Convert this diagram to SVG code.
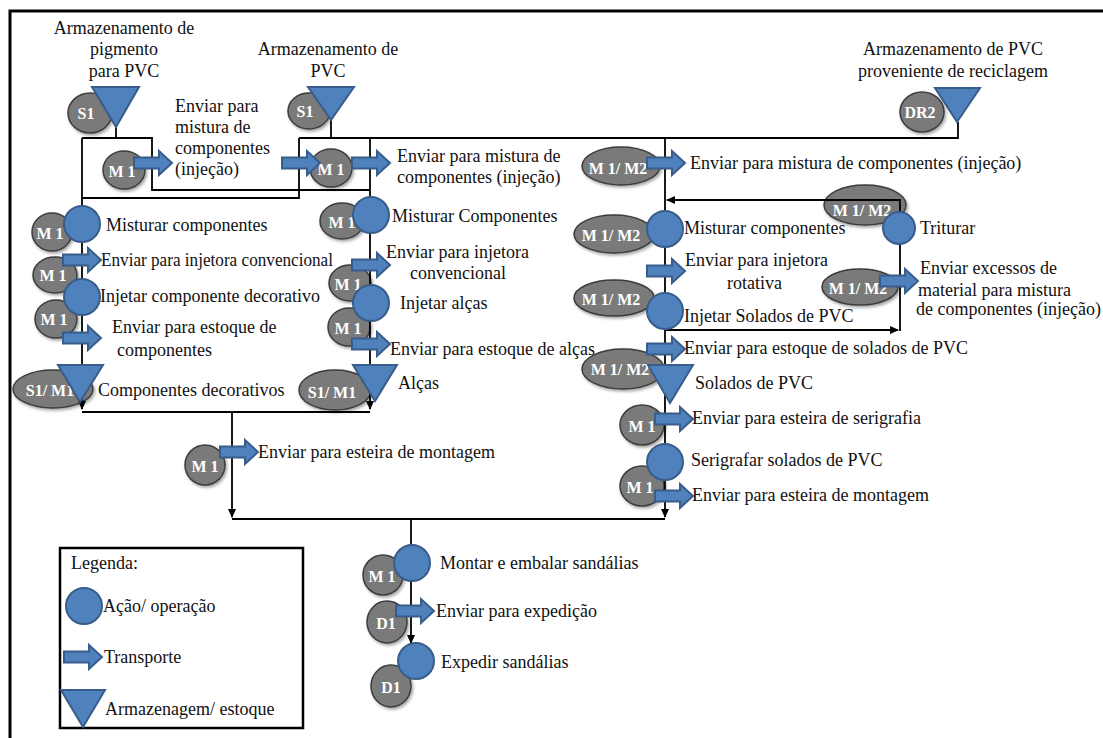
<svg xmlns="http://www.w3.org/2000/svg" width="1103" height="738" viewBox="0 0 1103 738">
  <defs>
    <style>
      text { font-family: "Liberation Serif", "Times New Roman", serif; font-size: 18px; fill: #111; }
      .c { text-anchor: middle; }
      .res ellipse { fill: #7a7a7a; stroke: #3c3c3c; stroke-width: 1.5; filter: url(#sh); }
      .res text { fill: #fff; font-weight: bold; font-size: 16px; text-anchor: middle; }
      .op { fill: #4f81bd; stroke: #385d8a; stroke-width: 2; }
      .ln { fill: none; stroke: #000; stroke-width: 1.8; }
      .frame { fill: none; stroke: #000; stroke-width: 3; }
    </style>
    <filter id="sh" x="-20%" y="-20%" width="150%" height="160%">
      <feDropShadow dx="1.5" dy="2" stdDeviation="1.5" flood-color="#000" flood-opacity="0.35"/>
    </filter>
    <!-- transport block arrow, origin at the tail centre -->
    <path id="tr" d="M0,-5.5 H25 V-12 L38,0 L25,12 V5.5 H0 Z"/>
    <marker id="ah" markerWidth="9" markerHeight="8" refX="8" refY="4" orient="auto" markerUnits="userSpaceOnUse">
      <path d="M0,0 L9,4 L0,8 Z" fill="#000"/>
    </marker>
  </defs>

  <rect width="1103" height="738" fill="#fff"/>
  <path class="frame" d="M10,738 V11 H1103"/>

  <!-- resource markers (gray ellipses) -->
  <g id="resources" class="res">
    <g id="r-s1a"><ellipse cx="90" cy="113" rx="22" ry="20"/><text x="86" y="119">S1</text></g>
    <g id="r-s1b"><ellipse cx="309" cy="111" rx="21" ry="18"/><text x="305" y="117">S1</text></g>
    <g id="r-dr2"><ellipse cx="922" cy="112" rx="22" ry="20"/><text x="920" y="118">DR2</text></g>
    <g id="r-m1-box1"><ellipse cx="124" cy="170" rx="21" ry="19"/><text x="122" y="177">M 1</text></g>
    <g id="r-m1-box2"><ellipse cx="331" cy="168" rx="21" ry="19"/><text x="331" y="175">M 1</text></g>
    <g id="r-m1-c1a"><ellipse cx="52" cy="232" rx="20" ry="19"/><text x="50" y="239">M 1</text></g>
    <g id="r-m1-c1b"><ellipse cx="55" cy="275" rx="22" ry="18"/><text x="53" y="281">M 1</text></g>
    <g id="r-m1-c1c"><ellipse cx="56" cy="319" rx="21" ry="19"/><text x="54" y="325">M 1</text></g>
    <g id="r-s1m1-c1"><ellipse cx="53" cy="389" rx="40" ry="19"/><text x="50" y="396">S1/ M1</text></g>
    <g id="r-m1-c2a"><ellipse cx="342" cy="221" rx="22" ry="18"/><text x="342" y="228">M 1</text></g>
    <g id="r-m1-c2b"><ellipse cx="350" cy="283" rx="21" ry="18"/><text x="348" y="290">M 1</text></g>
    <g id="r-m1-c2c"><ellipse cx="349" cy="327" rx="21" ry="19"/><text x="348" y="334">M 1</text></g>
    <g id="r-s1m1-c2"><ellipse cx="335" cy="390" rx="36" ry="20"/><text x="332" y="398">S1/ M1</text></g>
    <g id="r-m1-mid"><ellipse cx="205" cy="465" rx="20" ry="20"/><text x="205" y="472">M 1</text></g>
    <g id="r-m12-a"><ellipse cx="621" cy="166" rx="39" ry="19"/><text x="618" y="174">M 1/ M2</text></g>
    <g id="r-m12-b"><ellipse cx="865" cy="205" rx="41" ry="20"/><text x="862" y="216">M 1/ M2</text></g>
    <g id="r-m12-c"><ellipse cx="614" cy="234" rx="40" ry="19"/><text x="611" y="241">M 1/ M2</text></g>
    <g id="r-m12-d"><ellipse cx="614" cy="298" rx="40" ry="18"/><text x="611" y="305">M 1/ M2</text></g>
    <g id="r-m12-e"><ellipse cx="860" cy="287" rx="38" ry="18"/><text x="858" y="294">M 1/ M2</text></g>
    <g id="r-m12-f"><ellipse cx="623" cy="369" rx="41" ry="20"/><text x="620" y="375">M 1/ M2</text></g>
    <g id="r-m1-g"><ellipse cx="642" cy="425" rx="22" ry="20"/><text x="642" y="432">M 1</text></g>
    <g id="r-m1-h"><ellipse cx="642" cy="486" rx="22" ry="20"/><text x="640" y="493">M 1</text></g>
    <g id="r-m1-b1"><ellipse cx="383" cy="575" rx="20" ry="20"/><text x="382" y="582">M 1</text></g>
    <g id="r-d1-a"><ellipse cx="387" cy="622" rx="20" ry="21"/><text x="386" y="629">D1</text></g>
    <g id="r-d1-b"><ellipse cx="391" cy="686" rx="20" ry="21"/><text x="391" y="693">D1</text></g>
  </g>

  <!-- flow lines -->
  <g id="connectors" class="ln">
    <path d="M116,127 V138"/>
    <path d="M82,138 H152 V190 H370"/>
    <path d="M82,138 V409" marker-end="url(#ah)"/>
    <path d="M82,198 H299 V138"/>
    <path d="M331,120 V138"/>
    <path d="M299,138 H958 V122"/>
    <path d="M370,138 V409" marker-end="url(#ah)"/>
    <path d="M82,412 H370"/>
    <path d="M232,412 V517" marker-end="url(#ah)"/>
    <path d="M665,138 V517" marker-end="url(#ah)"/>
    <path d="M232,519 H665"/>
    <path d="M411,519 V546"/>
    <path d="M411,581 V643" marker-end="url(#ah)"/>
    <path d="M665,330 H898" marker-end="url(#ah)"/>
    <path d="M900,331 V200 H667" marker-end="url(#ah)"/>
  </g>

  <!-- sources -->
  <g id="src-pigment">
    <polygon class="op" points="92,87 139,87 116,127"/>
    <text class="c" x="124" y="34">Armazenamento de</text>
    <text class="c" x="124" y="55">pigmento</text>
    <text class="c" x="124" y="77">para PVC</text>
  </g>
  <g id="src-pvc">
    <polygon class="op" points="308,87 354,87 331,120"/>
    <text class="c" x="328" y="55">Armazenamento de</text>
    <text class="c" x="328" y="77">PVC</text>
  </g>
  <g id="src-recycled">
    <polygon class="op" points="935,88 980,88 957,122"/>
    <text class="c" x="953" y="55">Armazenamento de PVC</text>
    <text class="c" x="953" y="77">proveniente de reciclagem</text>
  </g>

  <!-- feed to mixing -->
  <g id="t-mix-1">
    <use href="#tr" class="op" x="134" y="163"/>
    <text x="175" y="112">Enviar para</text>
    <text x="175" y="133">mistura de</text>
    <text x="175" y="154">componentes</text>
    <text x="175" y="175">(injeção)</text>
  </g>
  <g id="t-mix-2">
    <use href="#tr" class="op" x="282" y="163"/>
    <use href="#tr" class="op" x="352" y="163"/>
    <text x="397" y="162">Enviar para mistura de</text>
    <text x="397" y="183">componentes (injeção)</text>
  </g>

  <!-- column: decorative components -->
  <g id="op-mix-dec">
    <circle class="op" cx="82" cy="224" r="18"/>
    <text x="106" y="231">Misturar componentes</text>
  </g>
  <g id="t-inj-dec">
    <use href="#tr" class="op" x="63" y="260"/>
    <text x="101" y="266" textLength="232" lengthAdjust="spacingAndGlyphs">Enviar para injetora convencional</text>
  </g>
  <g id="op-inj-dec">
    <circle class="op" cx="82" cy="297" r="18"/>
    <text x="100" y="302">Injetar componente decorativo</text>
  </g>
  <g id="t-stock-dec">
    <use href="#tr" class="op" x="63" y="338"/>
    <text x="112" y="333">Enviar para estoque de</text>
    <text x="117" y="356">componentes</text>
  </g>
  <g id="st-dec">
    <polygon class="op" points="58,365 103,365 80,402"/>
    <text x="98" y="396">Componentes decorativos</text>
  </g>

  <!-- column: straps -->
  <g id="op-mix-str">
    <circle class="op" cx="371" cy="215" r="18"/>
    <text x="392" y="222">Misturar Componentes</text>
  </g>
  <g id="t-inj-str">
    <use href="#tr" class="op" x="352" y="265"/>
    <text x="386" y="258">Enviar para injetora</text>
    <text x="410" y="279">convencional</text>
  </g>
  <g id="op-inj-str">
    <circle class="op" cx="371" cy="303" r="18"/>
    <text x="400" y="309">Injetar alças</text>
  </g>
  <g id="t-stock-str">
    <use href="#tr" class="op" x="352" y="344"/>
    <text x="390" y="355">Enviar para estoque de alças</text>
  </g>
  <g id="st-str">
    <polygon class="op" points="353,365 397,365 375,401"/>
    <text x="398" y="389">Alças</text>
  </g>

  <!-- to assembly belt -->
  <g id="t-belt-1">
    <use href="#tr" class="op" x="220" y="452"/>
    <text x="258" y="458">Enviar para esteira de montagem</text>
  </g>

  <!-- column: PVC soles -->
  <g id="t-mix-3">
    <use href="#tr" class="op" x="647" y="163"/>
    <text x="690" y="169">Enviar para mistura de componentes (injeção)</text>
  </g>
  <g id="op-mix-sole">
    <circle class="op" cx="665" cy="229" r="18"/>
    <text x="684" y="234">Misturar componentes</text>
  </g>
  <g id="op-grind">
    <circle class="op" cx="899" cy="228" r="16"/>
    <text x="920" y="234">Triturar</text>
  </g>
  <g id="t-inj-sole">
    <use href="#tr" class="op" x="647" y="271"/>
    <text x="685" y="266">Enviar para injetora</text>
    <text x="727" y="289">rotativa</text>
  </g>
  <g id="t-excess">
    <use href="#tr" class="op" x="880" y="281"/>
    <text x="920" y="274">Enviar excessos de</text>
    <text x="918" y="296">material para mistura</text>
    <text x="916" y="315">de componentes (injeção)</text>
  </g>
  <g id="op-inj-sole">
    <circle class="op" cx="665" cy="311" r="18"/>
    <text x="684" y="322">Injetar Solados de PVC</text>
  </g>
  <g id="t-stock-sole">
    <use href="#tr" class="op" x="647" y="349"/>
    <text x="684" y="354">Enviar para estoque de solados de PVC</text>
  </g>
  <g id="st-sole">
    <polygon class="op" points="648,365 693,365 670,403"/>
    <text x="695" y="389">Solados de PVC</text>
  </g>
  <g id="t-screen">
    <use href="#tr" class="op" x="655" y="419"/>
    <text x="692" y="424">Enviar para esteira de serigrafia</text>
  </g>
  <g id="op-screen">
    <circle class="op" cx="665" cy="462" r="18"/>
    <text x="691" y="466">Serigrafar solados de PVC</text>
  </g>
  <g id="t-belt-2">
    <use href="#tr" class="op" x="655" y="496"/>
    <text x="692" y="501">Enviar para esteira de montagem</text>
  </g>

  <!-- assembly and dispatch -->
  <g id="op-assemble">
    <circle class="op" cx="412" cy="563" r="18"/>
    <text x="440" y="569">Montar e embalar sandálias</text>
  </g>
  <g id="t-dispatch">
    <use href="#tr" class="op" x="396" y="611"/>
    <text x="436" y="617">Enviar para expedição</text>
  </g>
  <g id="op-dispatch">
    <circle class="op" cx="416" cy="661" r="18"/>
    <text x="441" y="668">Expedir sandálias</text>
  </g>

  <!-- legend -->
  <g id="legend">
    <rect x="60" y="548" width="243" height="180" fill="none" stroke="#000" stroke-width="2.5"/>
    <text x="71" y="569">Legenda:</text>
    <circle class="op" cx="84" cy="606" r="18"/>
    <text x="103" y="612">Ação/ operação</text>
    <use href="#tr" class="op" x="64" y="657"/>
    <text x="104" y="663">Transporte</text>
    <polygon class="op" points="61,690 105,690 83,727"/>
    <text x="105" y="715">Armazenagem/ estoque</text>
  </g>
</svg>
